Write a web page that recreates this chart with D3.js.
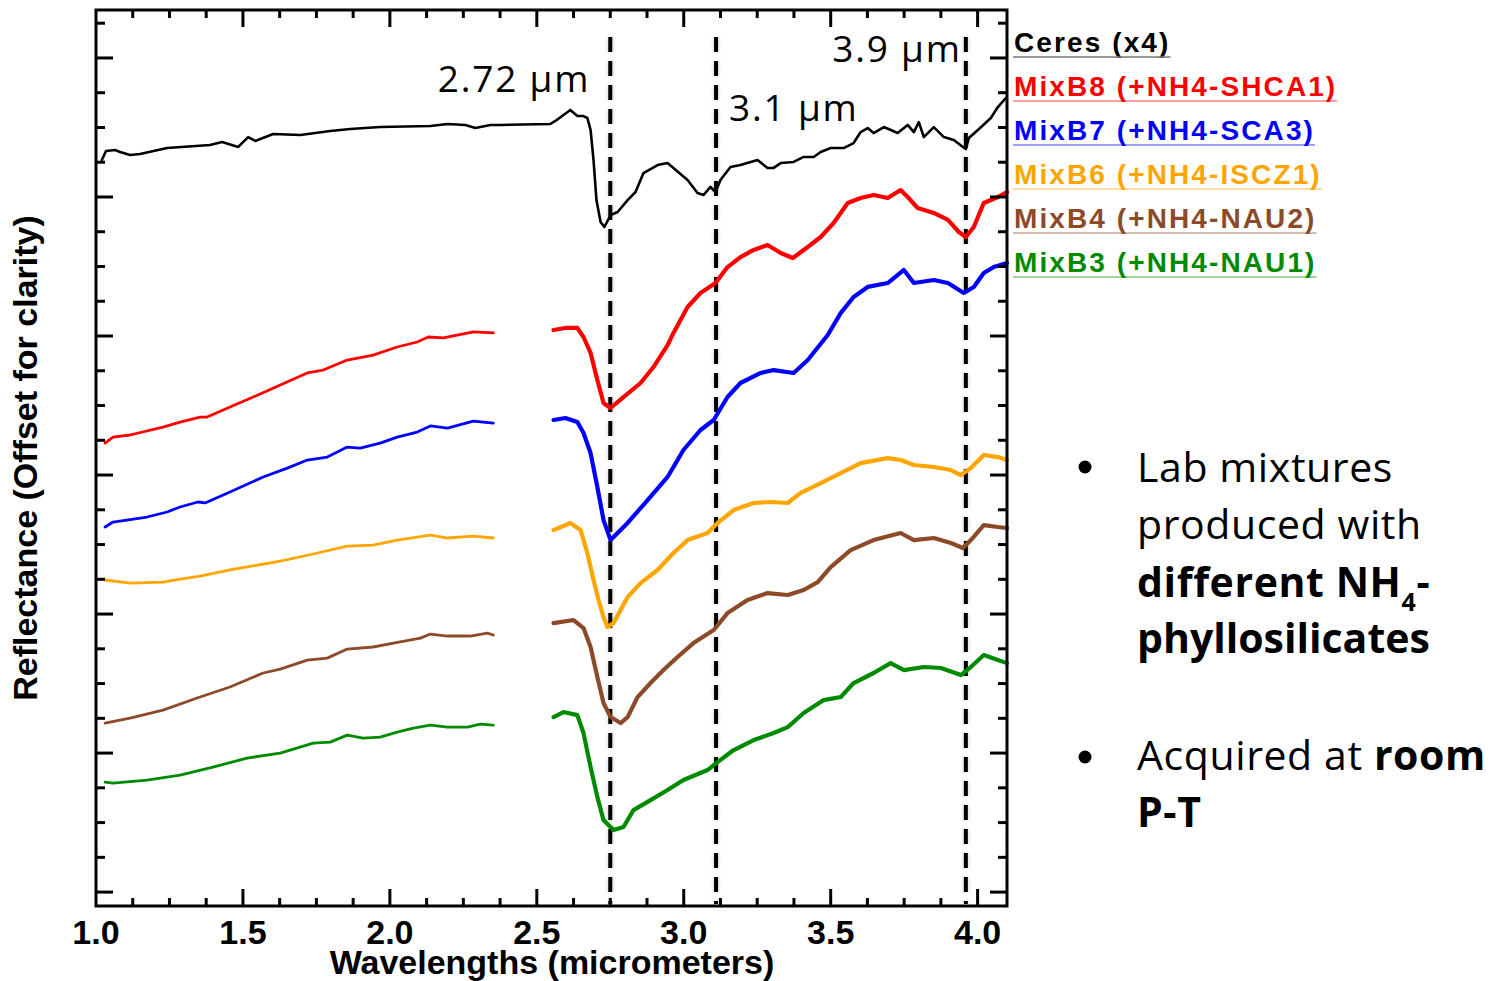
<!DOCTYPE html>
<html><head><meta charset="utf-8">
<script src="https://cdn.jsdelivr.net/npm/d3@7"></script>
<style>
html,body{margin:0;padding:0;background:#fff;}
svg{display:block;}
</style></head><body>
<svg id="chart" width="1495" height="981"></svg>
<script>
// Spectra as [wavelength (µm), reflectance offset for clarity]

const ceres = [[1.020,5.266],[1.034,5.331],[1.065,5.338],[1.082,5.324],[1.116,5.302],[1.150,5.309],[1.242,5.352],[1.388,5.374],[1.429,5.396],[1.484,5.360],[1.518,5.431],[1.542,5.403],[1.559,5.417],[1.603,5.453],[1.695,5.446],[1.797,5.475],[1.865,5.489],[1.967,5.503],[2.138,5.511],[2.196,5.525],[2.257,5.518],[2.291,5.496],[2.342,5.518],[2.376,5.518],[2.546,5.525],[2.563,5.547],[2.614,5.626],[2.638,5.582],[2.659,5.582],[2.672,5.568],[2.683,5.482],[2.693,5.266],[2.703,4.978],[2.717,4.820],[2.730,4.784],[2.751,4.870],[2.775,4.892],[2.809,4.978],[2.836,5.036],[2.863,5.172],[2.911,5.230],[2.945,5.244],[2.965,5.209],[3.013,5.122],[3.047,5.029],[3.067,5.014],[3.091,5.072],[3.108,5.036],[3.125,5.122],[3.159,5.216],[3.193,5.230],[3.251,5.266],[3.285,5.209],[3.306,5.209],[3.330,5.244],[3.374,5.252],[3.408,5.288],[3.442,5.288],[3.466,5.324],[3.500,5.352],[3.544,5.352],[3.578,5.388],[3.602,5.467],[3.626,5.496],[3.646,5.460],[3.681,5.503],[3.728,5.460],[3.762,5.518],[3.783,5.467],[3.800,5.539],[3.817,5.431],[3.851,5.503],[3.885,5.431],[3.919,5.410],[3.950,5.360],[3.960,5.345],[3.970,5.424],[4.001,5.482],[4.045,5.568],[4.069,5.647],[4.096,5.712]];

const mixB8Short = [[1.031,3.230],[1.058,3.273],[1.116,3.288],[1.228,3.345],[1.286,3.381],[1.354,3.417],[1.378,3.417],[1.456,3.489],[1.535,3.561],[1.627,3.647],[1.719,3.734],[1.773,3.755],[1.855,3.827],[1.943,3.863],[2.025,3.921],[2.093,3.957],[2.131,3.993],[2.182,3.986],[2.284,4.029],[2.352,4.022]];
const mixB8Long = [[2.557,4.043],[2.597,4.058],[2.638,4.058],[2.659,3.993],[2.683,3.878],[2.706,3.683],[2.727,3.518],[2.751,3.482],[2.795,3.561],[2.853,3.662],[2.897,3.777],[2.945,3.935],[2.965,4.022],[2.989,4.115],[3.013,4.209],[3.057,4.309],[3.108,4.381],[3.149,4.496],[3.193,4.568],[3.238,4.619],[3.285,4.655],[3.330,4.597],[3.371,4.561],[3.422,4.640],[3.466,4.712],[3.510,4.813],[3.558,4.957],[3.602,4.993],[3.646,5.014],[3.694,4.993],[3.738,5.050],[3.762,5.000],[3.796,4.921],[3.851,4.885],[3.899,4.835],[3.936,4.748],[3.960,4.712],[3.987,4.784],[4.021,4.957],[4.069,5.000],[4.100,5.036]];

const mixB7Short = [[1.031,2.626],[1.058,2.662],[1.174,2.698],[1.242,2.734],[1.286,2.770],[1.347,2.806],[1.371,2.799],[1.456,2.878],[1.569,2.986],[1.651,3.050],[1.719,3.108],[1.787,3.129],[1.855,3.201],[1.899,3.194],[1.967,3.230],[2.025,3.273],[2.093,3.309],[2.138,3.353],[2.196,3.338],[2.284,3.388],[2.352,3.374]];
const mixB7Long = [[2.557,3.396],[2.597,3.410],[2.638,3.381],[2.659,3.302],[2.683,3.158],[2.706,2.914],[2.727,2.676],[2.751,2.532],[2.809,2.655],[2.877,2.820],[2.945,2.986],[2.999,3.180],[3.057,3.324],[3.102,3.396],[3.149,3.561],[3.193,3.662],[3.262,3.734],[3.306,3.755],[3.374,3.734],[3.422,3.827],[3.490,4.007],[3.534,4.165],[3.578,4.281],[3.626,4.353],[3.694,4.381],[3.749,4.475],[3.783,4.381],[3.851,4.403],[3.899,4.381],[3.953,4.309],[3.987,4.353],[4.021,4.453],[4.055,4.496],[4.100,4.525]];

const mixB6Short = [[1.031,2.245],[1.116,2.223],[1.228,2.230],[1.286,2.252],[1.354,2.273],[1.456,2.317],[1.627,2.381],[1.739,2.432],[1.855,2.489],[1.943,2.496],[2.025,2.532],[2.093,2.554],[2.138,2.568],[2.196,2.547],[2.284,2.561],[2.352,2.547]];
const mixB6Long = [[2.557,2.604],[2.614,2.655],[2.649,2.604],[2.672,2.439],[2.693,2.245],[2.710,2.101],[2.727,1.978],[2.740,1.906],[2.761,1.935],[2.785,2.029],[2.809,2.122],[2.853,2.223],[2.911,2.317],[2.965,2.439],[3.013,2.532],[3.081,2.583],[3.115,2.655],[3.170,2.748],[3.238,2.799],[3.296,2.806],[3.354,2.799],[3.398,2.871],[3.466,2.942],[3.534,3.014],[3.602,3.086],[3.694,3.122],[3.738,3.108],[3.783,3.072],[3.851,3.058],[3.909,3.036],[3.943,3.000],[3.977,3.050],[4.021,3.144],[4.069,3.129],[4.100,3.108]];

const mixB4Short = [[1.031,1.216],[1.116,1.252],[1.228,1.309],[1.344,1.396],[1.456,1.475],[1.569,1.576],[1.627,1.604],[1.719,1.669],[1.787,1.683],[1.855,1.748],[1.943,1.763],[2.035,1.799],[2.104,1.827],[2.138,1.856],[2.196,1.842],[2.274,1.842],[2.332,1.863],[2.352,1.849]];
const mixB4Long = [[2.557,1.935],[2.625,1.957],[2.659,1.899],[2.683,1.763],[2.706,1.547],[2.727,1.360],[2.751,1.259],[2.785,1.216],[2.809,1.259],[2.843,1.403],[2.887,1.504],[2.931,1.597],[2.979,1.691],[3.033,1.791],[3.102,1.885],[3.149,2.007],[3.217,2.101],[3.285,2.151],[3.354,2.137],[3.408,2.173],[3.456,2.230],[3.500,2.338],[3.568,2.460],[3.646,2.532],[3.738,2.583],[3.783,2.532],[3.851,2.547],[3.909,2.511],[3.950,2.475],[3.977,2.532],[4.021,2.640],[4.069,2.626],[4.100,2.619]];

const mixB3Short = [[1.031,0.791],[1.058,0.784],[1.174,0.806],[1.286,0.842],[1.398,0.899],[1.514,0.964],[1.627,1.000],[1.739,1.072],[1.797,1.079],[1.855,1.129],[1.909,1.108],[1.967,1.115],[2.025,1.151],[2.080,1.180],[2.138,1.201],[2.196,1.187],[2.264,1.187],[2.308,1.209],[2.352,1.201]];
const mixB3Long = [[2.557,1.259],[2.591,1.295],[2.638,1.273],[2.659,1.144],[2.683,0.899],[2.706,0.683],[2.727,0.518],[2.761,0.446],[2.795,0.468],[2.829,0.590],[2.887,0.662],[2.945,0.734],[2.999,0.806],[3.081,0.878],[3.115,0.935],[3.170,1.022],[3.238,1.094],[3.306,1.144],[3.354,1.187],[3.408,1.288],[3.476,1.381],[3.534,1.403],[3.578,1.504],[3.646,1.576],[3.704,1.647],[3.749,1.597],[3.817,1.619],[3.875,1.612],[3.943,1.561],[3.977,1.619],[4.021,1.705],[4.069,1.669],[4.100,1.647]];

const seriesNames = ["Ceres (x4)", "MixB8 (+NH4-SHCA1)", "MixB7 (+NH4-SCA3)", "MixB6 (+NH4-ISCZ1)", "MixB4 (+NH4-NAU2)", "MixB3 (+NH4-NAU1)"];
const seriesColors = ["#000000", "#ff0000", "#0000ff", "#ffa500", "#8c4a28", "#008a00"];

const bandCenters = [2.75, 3.11, 3.96];
const bandLabels = ["2.72 µm", "3.1 µm", "3.9 µm"];

const xMajorTicks = [1.0, 1.5, 2.0, 2.5, 3.0, 3.5, 4.0];
const xMinorTicks = d3.range(1.0, 4.1, 0.125);
const yMajorTicks = [0, 1, 2, 3, 4, 5, 6];
const yMinorTicks = d3.range(0, 6.3, 0.25);

// ---- layout ----
const W = 1495, H = 981;
const svg = d3.select("#chart");
const L = 96, R = 1007, T = 10, B = 906;

const x = d3.scaleLinear().domain([1.0, 4.1]).range([L, R]);
const y = d3.scaleLinear().domain([-0.1, 6.345]).range([B, T]);

// soft grey halo behind the dashed band markers
const defs = svg.append("defs");
const halo = defs.append("filter").attr("id", "halo")
  .attr("filterUnits", "userSpaceOnUse")
  .attr("x", 0).attr("y", 0).attr("width", W).attr("height", H);
halo.append("feGaussianBlur").attr("in", "SourceAlpha").attr("stdDeviation", 2.2).attr("result", "b");
halo.append("feFlood").attr("flood-color", "#000").attr("flood-opacity", 0.22);
halo.append("feComposite").attr("in2", "b").attr("operator", "in").attr("result", "s");
const fm = halo.append("feMerge");
fm.append("feMergeNode").attr("in", "s");
fm.append("feMergeNode").attr("in", "SourceGraphic");

// ---- band-centre markers ----
svg.append("g").attr("filter", "url(#halo)")
  .selectAll("line").data(bandCenters).join("line")
  .attr("x1", d => x(d)).attr("x2", d => x(d))
  .attr("y1", 37).attr("y2", B - 2)
  .attr("stroke", "#000").attr("stroke-width", 4)
  .attr("stroke-dasharray", "15,9");

// ---- spectra ----
const line = d3.line().x(d => x(d[0])).y(d => y(d[1]));
const curves = svg.append("g").attr("fill", "none").attr("stroke-linejoin", "round").attr("stroke-linecap", "round");

curves.append("path").datum(ceres).attr("d", line)
  .attr("stroke", seriesColors[0]).attr("stroke-width", 2.6);

const mixes = [
  [mixB8Short, mixB8Long],
  [mixB7Short, mixB7Long],
  [mixB6Short, mixB6Long],
  [mixB4Short, mixB4Long],
  [mixB3Short, mixB3Long]
];
mixes.forEach((parts, i) => {
  const c = seriesColors[i + 1];
  curves.append("path").datum(parts[0]).attr("d", line)
    .attr("stroke", c).attr("stroke-width", 2.8);
  curves.append("path").datum(parts[1]).attr("d", line)
    .attr("stroke", c).attr("stroke-width", 4.2);
});

// ---- band labels ----
const lblFont = "'Open Sans', sans-serif";
const bandLabelPos = [
  {dx: -20, y: 92, anchor: "end"},
  {dx: 13, y: 121, anchor: "start"},
  {dx: -4, y: 62, anchor: "end"}
];
svg.append("g").selectAll("text").data(bandLabels).join("text")
  .attr("x", (d, i) => x(bandCenters[i]) + bandLabelPos[i].dx)
  .attr("y", (d, i) => bandLabelPos[i].y)
  .attr("text-anchor", (d, i) => bandLabelPos[i].anchor)
  .attr("font-family", lblFont).attr("font-size", 37).attr("letter-spacing", 1.8)
  .attr("fill", "#000")
  .text(d => d);

// ---- axes ----
const axes = svg.append("g").attr("stroke", "#000").attr("stroke-width", 3);

function ticks(values, scale, len, side) {
  values.forEach(v => {
    const p = scale(v);
    if (side === "bottom") axes.append("line").attr("x1", p).attr("x2", p).attr("y1", B).attr("y2", B - len);
    if (side === "top") axes.append("line").attr("x1", p).attr("x2", p).attr("y1", T).attr("y2", T + len);
    if (side === "left") axes.append("line").attr("x1", L).attr("x2", L + len).attr("y1", p).attr("y2", p);
    if (side === "right") axes.append("line").attr("x1", R).attr("x2", R - len).attr("y1", p).attr("y2", p);
  });
}
const isMajorX = v => xMajorTicks.some(m => Math.abs(m - v) < 1e-6);
const isMajorY = v => yMajorTicks.some(m => Math.abs(m - v) < 1e-6);
const xMin = xMinorTicks.filter(v => !isMajorX(v) && v > 1.0001);
const yMin = yMinorTicks.filter(v => !isMajorY(v));
const xMaj = xMajorTicks.filter(v => v > 1.0001);
ticks(xMin, x, 8, "bottom"); ticks(xMin, x, 8, "top");
ticks(xMaj, x, 17, "bottom"); ticks(xMaj, x, 17, "top");
ticks(yMin, y, 9, "left"); ticks(yMin, y, 9, "right");
ticks(yMajorTicks, y, 17, "left"); ticks(yMajorTicks, y, 17, "right");

axes.append("rect").attr("x", L).attr("y", T).attr("width", R - L).attr("height", B - T)
  .attr("fill", "none");

// tick labels and titles
const axisFont = "'Liberation Sans', Arial, Helvetica, sans-serif";
svg.append("g").selectAll("text").data(xMajorTicks).join("text")
  .attr("x", d => x(d)).attr("y", 944)
  .attr("text-anchor", "middle")
  .attr("font-family", axisFont).attr("font-weight", "bold").attr("font-size", 34)
  .text(d => d.toFixed(1));

svg.append("text").attr("x", 552).attr("y", 974).attr("text-anchor", "middle")
  .attr("font-family", axisFont).attr("font-weight", "bold").attr("font-size", 34)
  .text("Wavelengths (micrometers)");

svg.append("text").attr("transform", "translate(37,458) rotate(-90)").attr("text-anchor", "middle")
  .attr("font-family", axisFont).attr("font-weight", "bold").attr("font-size", 34)
  .text("Reflectance (Offset for clarity)");

// ---- legend ----
const legend = svg.append("g");
seriesNames.forEach((name, i) => {
  const by = 52 + i * 44;
  const t = legend.append("text").attr("x", 1014).attr("y", by)
    .attr("font-family", axisFont).attr("font-weight", "bold").attr("font-size", 28)
    .attr("letter-spacing", 2.1)
    .attr("fill", seriesColors[i]).text(name);
  const w = t.node().getComputedTextLength();
  legend.append("line").attr("x1", 1013).attr("x2", 1014 + w)
    .attr("y1", by + 5).attr("y2", by + 5)
    .attr("stroke", i === 0 ? "#777" : seriesColors[i]).attr("stroke-opacity", i === 0 ? 1 : 0.5)
    .attr("stroke-width", 1.5);
});

// ---- notes ----
const notes = svg.append("g").attr("font-family", lblFont).attr("font-size", 41)
  .attr("letter-spacing", 0.6).attr("fill", "#000");
notes.append("circle").attr("cx", 1085).attr("cy", 467).attr("r", 6.5);
notes.append("circle").attr("cx", 1085).attr("cy", 757).attr("r", 6.5);
const tx = 1137;
notes.append("text").attr("x", tx).attr("y", 482).text("Lab mixtures");
notes.append("text").attr("x", tx).attr("y", 539).text("produced with");
const l3 = notes.append("text").attr("x", tx).attr("y", 597).attr("font-weight", "bold");
l3.append("tspan").text("different NH");
l3.append("tspan").attr("font-size", 25).attr("dy", 14).text("4");
l3.append("tspan").attr("dy", -14).text("-");
notes.append("text").attr("x", tx).attr("y", 653).attr("font-weight", "bold").attr("letter-spacing", 0).text("phyllosilicates");
const l5 = notes.append("text").attr("x", tx).attr("y", 770);
l5.append("tspan").text("Acquired at ");
l5.append("tspan").attr("font-weight", "bold").text("room");
notes.append("text").attr("x", tx).attr("y", 827).attr("font-weight", "bold").text("P-T");
</script>
</body></html>
